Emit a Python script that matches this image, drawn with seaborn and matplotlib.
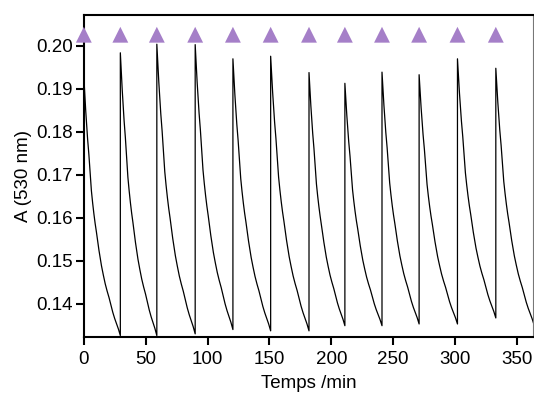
import numpy as np
import pandas as pd
import matplotlib
matplotlib.use("Agg")
import matplotlib.pyplot as plt
import seaborn as sns

# injection times (min) marked by triangles
injections = [0, 29.5, 59, 90, 120.5, 151, 182, 211, 241, 271, 302, 333]
# start / end of each decay cycle, absorbance at top and bottom
cycle_start = [0, 29.5, 59, 90, 120.5, 151, 182, 211, 241, 271, 302, 333]
cycle_end = [29.5, 59, 90, 120.5, 151, 182, 211, 241, 271, 302, 333, 364]
cycle_peak = [0.1928, 0.1984, 0.2004, 0.2003, 0.1970, 0.1976, 0.1938, 0.1913, 0.1939, 0.1933, 0.1970, 0.1948]
cycle_min = [0.1326, 0.1326, 0.1330, 0.1340, 0.1337, 0.1337, 0.1349, 0.1349, 0.1353, 0.1353, 0.1367, 0.1350]
# decay shape read from one cycle (fraction of cycle time -> fraction of amplitude)
shape_t = [0, 0.017, 0.034, 0.052, 0.069, 0.086, 0.103, 0.121, 0.138, 0.155, 0.172, 0.19, 0.207,
           0.241, 0.276, 0.31, 0.345, 0.379, 0.414, 0.448, 0.483, 0.534, 0.586, 0.638, 0.69,
           0.741, 0.793, 0.845, 0.897, 0.948, 0.975, 1.0]
shape_a = [1.0, 0.955, 0.91, 0.868, 0.83, 0.793, 0.76, 0.73, 0.70, 0.665, 0.63, 0.595, 0.56,
           0.513, 0.47, 0.433, 0.40, 0.365, 0.33, 0.30, 0.27, 0.234, 0.20, 0.172, 0.147,
           0.118, 0.09, 0.066, 0.045, 0.025, 0.012, 0.0]

rows = []
for t0, t1, p, m in zip(cycle_start, cycle_end, cycle_peak, cycle_min):
    for st, sa in zip(shape_t, shape_a):
        rows.append((t0 + st * (t1 - t0), m + (p - m) * sa))
df = pd.DataFrame(rows, columns=["t", "A"])

sns.set_style("ticks")
plt.rcParams["font.family"] = ["Liberation Sans", "DejaVu Sans"]
plt.rcParams["text.color"] = "black"
plt.rcParams["axes.labelcolor"] = "black"
plt.rcParams["xtick.color"] = "black"
plt.rcParams["ytick.color"] = "black"

fig = plt.figure(figsize=(5.34, 3.94), dpi=100)
ax = fig.add_axes([0.157, 0.145, 0.841, 0.817])

sns.lineplot(data=df, x="t", y="A", sort=False, estimator=None, color="black", lw=0.9, ax=ax)
sns.scatterplot(x=injections, y=[0.2026] * len(injections), marker="^", s=130,
                color="#a57fc8", edgecolor="none", clip_on=False, zorder=5, ax=ax)

ax.set_xlim(0, 363)
ax.set_ylim(0.1323, 0.2072)
ax.set_xticks(range(0, 351, 50))
ax.set_yticks([0.14, 0.15, 0.16, 0.17, 0.18, 0.19, 0.20])
ax.set_yticklabels(["0.14", "0.15", "0.16", "0.17", "0.18", "0.19", "0.20"])
ax.tick_params(labelsize=13.5, length=6, width=1.5, color="black", labelcolor="black")
ax.tick_params(axis="x", pad=4)
ax.tick_params(axis="y", pad=2)
ax.set_xlabel("Temps /min", fontsize=13.5, labelpad=5)
ax.set_ylabel("A (530 nm)", fontsize=13.5, labelpad=3)

for side in ["left", "bottom", "top"]:
    ax.spines[side].set_linewidth(1.5)
    ax.spines[side].set_color("black")
ax.spines["right"].set_linewidth(0.8)
ax.spines["right"].set_color("#777777")

fig.savefig("out.png", dpi=100)
